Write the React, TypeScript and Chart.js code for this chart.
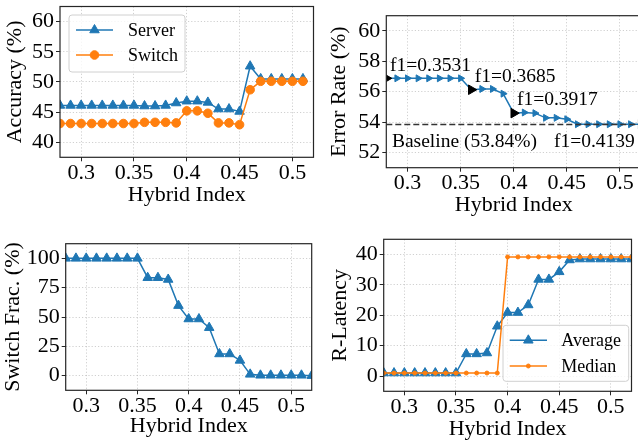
import React, { useEffect, useRef } from "react";
import { Chart, registerables } from "chart.js";

Chart.register(...registerables);

const FONT = "'Liberation Serif', 'Times New Roman', serif";
const BLUE = "#1f77b4";
const ORANGE = "#ff7f0e";

// ---------- data ----------
const hybridIndex = [0.28, 0.29, 0.3, 0.31, 0.32, 0.33, 0.34, 0.35, 0.36, 0.37, 0.38, 0.39, 0.4, 0.41, 0.42, 0.43, 0.44, 0.45, 0.46, 0.47, 0.48, 0.49, 0.5, 0.51, 0.52];
const accIndex = [0.28, 0.29, 0.3, 0.31, 0.32, 0.33, 0.34, 0.35, 0.36, 0.37, 0.38, 0.39, 0.4, 0.41, 0.42, 0.43, 0.44, 0.45, 0.46, 0.47, 0.48, 0.49, 0.5, 0.51];

const serverAcc = [46.1, 46.1, 46.1, 46.1, 46.1, 46.1, 46.1, 46.1, 46.0, 46.0, 46.1, 46.5, 46.8, 46.8, 46.6, 45.5, 45.5, 45.1, 52.6, 50.5, 50.5, 50.5, 50.5, 50.5];
const switchAcc = [43.1, 43.1, 43.1, 43.1, 43.1, 43.1, 43.1, 43.1, 43.3, 43.3, 43.3, 43.2, 45.2, 45.2, 44.8, 43.2, 43.2, 42.9, 48.7, 50.1, 50.1, 50.1, 50.1, 50.1];

const errorRate = [56.88, 56.88, 56.88, 56.88, 56.88, 56.88, 56.88, 56.88, 56.13, 56.18, 56.18, 55.87, 54.59, 54.63, 54.59, 54.28, 54.28, 54.19, 53.86, 53.86, 53.86, 53.86, 53.86, 53.86, 53.86];
const baselineError = 53.84;
const highlightIdx = [0, 8, 12, 24];
const f1Labels = ["f1=0.3531", "f1=0.3685", "f1=0.3917", "f1=0.4139"];
const f1LabelX = [0.2835, 0.3632, 0.403, 0.4378];
const f1LabelY = [57.35, 56.66, 55.15, 52.37];
const baselineLabel = "Baseline (53.84%)";
const baselineLabelX = 0.2853;
const baselineLabelY = 52.37;

const switchFrac = [100, 100, 100, 100, 100, 100, 100, 100, 83.5, 83.5, 82.0, 59.7, 48.3, 48.3, 40.9, 18.5, 18.5, 13.0, 1.1, 0.3, 0.3, 0.3, 0.3, 0.3, 0.0];

const avgLatency = [1.0, 1.0, 1.0, 1.0, 1.0, 1.0, 1.0, 1.0, 7.3, 7.3, 7.6, 16.4, 20.9, 20.9, 23.4, 31.8, 31.8, 34.3, 38.2, 38.5, 38.5, 38.5, 38.5, 38.5, 38.5];
const medLatency = [1.0, 1.0, 1.0, 1.0, 1.0, 1.0, 1.0, 1.0, 1.0, 1.0, 1.0, 1.0, 39.2, 39.2, 39.2, 39.2, 39.2, 39.2, 39.2, 39.2, 39.2, 39.2, 39.2, 39.2, 39.2];

const xTickValues = [0.3, 0.35, 0.4, 0.45, 0.5];
const xTickLabels = ["0.3", "0.35", "0.4", "0.45", "0.5"];
const accTicks = [40, 45, 50, 55, 60];
const errTicks = [52, 54, 56, 58, 60];
const fracTicks = [0, 25, 50, 75, 100];
const latTicks = [0, 10, 20, 30, 40];

const pts = (xs: number[], ys: number[]) => xs.map((x, i) => ({ x, y: ys[i] }));

// ---------- drawing helpers ----------
function drawMarker(ctx: CanvasRenderingContext2D, style: string, x: number, y: number, r: number, color: string, rotation = 0) {
  ctx.save();
  ctx.fillStyle = color;
  ctx.strokeStyle = color;
  ctx.lineWidth = 1;
  ctx.beginPath();
  if (style === "triangle") {
    let rad = (rotation * Math.PI) / 180;
    ctx.moveTo(x + Math.sin(rad) * r, y - Math.cos(rad) * r);
    rad += (2 * Math.PI) / 3;
    ctx.lineTo(x + Math.sin(rad) * r, y - Math.cos(rad) * r);
    rad += (2 * Math.PI) / 3;
    ctx.lineTo(x + Math.sin(rad) * r, y - Math.cos(rad) * r);
    ctx.closePath();
  } else {
    ctx.arc(x, y, r, 0, Math.PI * 2);
  }
  ctx.fill();
  ctx.stroke();
  ctx.restore();
}

const framePlugin = {
  id: "frame",
  afterDraw(chart: any, _args: any, opts: any) {
    const ctx: CanvasRenderingContext2D = chart.ctx;
    const { left, top, right, bottom } = chart.chartArea;

    // annotations (data coordinates)
    if (opts.texts) {
      const xs = chart.scales.x;
      const ys = chart.scales.y;
      ctx.save();
      ctx.fillStyle = "#000";
      ctx.font = `${opts.textSize}px ${FONT}`;
      ctx.textAlign = "left";
      ctx.textBaseline = "alphabetic";
      opts.texts.forEach((t: any) => {
        ctx.fillText(t.text, xs.getPixelForValue(t.x), ys.getPixelForValue(t.y));
      });
      ctx.restore();
    }

    // legend
    if (opts.legend) {
      const L = opts.legend;
      ctx.save();
      ctx.beginPath();
      const r = 3;
      const { x, y, w, h } = L.box;
      ctx.moveTo(x + r, y);
      ctx.arcTo(x + w, y, x + w, y + h, r);
      ctx.arcTo(x + w, y + h, x, y + h, r);
      ctx.arcTo(x, y + h, x, y, r);
      ctx.arcTo(x, y, x + w, y, r);
      ctx.closePath();
      ctx.fillStyle = "rgba(255,255,255,0.8)";
      ctx.fill();
      ctx.strokeStyle = "#d0d0d0";
      ctx.lineWidth = 1;
      ctx.stroke();
      const sets = chart.data.datasets.filter((d: any) => d.inLegend);
      sets.forEach((d: any, i: number) => {
        const yy = L.rows[i];
        ctx.beginPath();
        ctx.strokeStyle = d.borderColor;
        ctx.lineWidth = d.borderWidth;
        ctx.moveTo(L.x1, yy);
        ctx.lineTo(L.x2, yy);
        ctx.stroke();
        drawMarker(ctx, d.pointStyle, (L.x1 + L.x2) / 2, yy, d.pointRadius, d.borderColor);
        ctx.fillStyle = "#000";
        ctx.font = `${L.size}px ${FONT}`;
        ctx.textAlign = "left";
        ctx.textBaseline = "middle";
        ctx.fillText(d.label, L.tx, yy + 1);
      });
      ctx.restore();
    }

    // spines
    ctx.save();
    ctx.strokeStyle = "#262626";
    ctx.lineWidth = 1.2;
    ctx.strokeRect(left, top, right - left, bottom - top);
    ctx.restore();
  },
};

type PanelCfg = {
  canvasW: number;
  canvasH: number;
  padTop: number;
  padRight: number;
  yW: number;
  xH: number;
  yTitle: string;
  yTitlePad: number;
  xTitlePad: number;
  yMin: number;
  yMax: number;
  yTicks: number[];
  datasets: any[];
  frame: any;
};

function makeConfig(p: PanelCfg): any {
  const grid = {
    color: "rgba(176,176,176,0.75)",
    lineWidth: 0.8,
    tickLength: 4,
    tickColor: "#262626",
    tickWidth: 1,
  };
  const border = { display: false, dash: [1.2, 2] };
  return {
    type: "line",
    data: { datasets: p.datasets },
    options: {
      animation: false,
      responsive: false,
      devicePixelRatio: 1,
      layout: { padding: { left: 0, top: p.padTop, right: p.padRight, bottom: 0 } },
      plugins: { legend: { display: false }, tooltip: { enabled: false }, frame: p.frame },
      elements: { line: { tension: 0 } },
      scales: {
        x: {
          type: "linear",
          min: 0.28,
          max: 0.52,
          afterBuildTicks: (s: any) => {
            s.ticks = xTickValues.map((v) => ({ value: v }));
          },
          afterFit: (s: any) => {
            s.height = p.xH;
            s.paddingLeft = 0;
            s.paddingRight = 0;
            s.paddingTop = 0;
            s.paddingBottom = 0;
          },
          ticks: {
            callback: (_v: any, i: number) => xTickLabels[i],
            font: { size: 22, family: FONT, lineHeight: 1 },
            color: "#000",
            padding: 1,
            maxRotation: 0,
            autoSkip: false,
          },
          grid,
          border,
          title: {
            display: true,
            text: "Hybrid Index",
            color: "#000",
            font: { size: 22, family: FONT, lineHeight: 1 },
            padding: { top: 0, bottom: p.xTitlePad },
          },
        },
        y: {
          type: "linear",
          min: p.yMin,
          max: p.yMax,
          afterBuildTicks: (s: any) => {
            s.ticks = p.yTicks.map((v) => ({ value: v }));
          },
          afterFit: (s: any) => {
            s.width = p.yW;
            s.paddingLeft = 0;
            s.paddingRight = 0;
            s.paddingTop = 0;
            s.paddingBottom = 0;
          },
          ticks: {
            callback: (v: any) => String(v),
            font: { size: 22, family: FONT, lineHeight: 1 },
            color: "#000",
            padding: 2,
            autoSkip: false,
          },
          grid,
          border,
          title: {
            display: true,
            text: p.yTitle,
            color: "#000",
            font: { size: 22, family: FONT, lineHeight: 1 },
            padding: { top: p.yTitlePad, bottom: 0 },
          },
        },
      },
    },
    plugins: [framePlugin],
  };
}

const lineDs = (label: string, xs: number[], ys: number[], color: string, style: string, radius: number, order: number) => ({
  label,
  data: pts(xs, ys),
  borderColor: color,
  backgroundColor: color,
  borderWidth: 1.5,
  pointStyle: style,
  pointRadius: radius,
  pointBackgroundColor: color,
  pointBorderColor: color,
  pointBorderWidth: 1,
  order,
  inLegend: true,
});

function buildPanels(): { left: number; top: number; cfg: PanelCfg }[] {
  const errColors = errorRate.map((_, i) => (highlightIdx.includes(i) ? "#000" : BLUE));
  const errRadius = errorRate.map((_, i) => (highlightIdx.includes(i) ? 5.5 : 4));
  return [
    {
      left: 0,
      top: 0,
      cfg: {
        canvasW: 320,
        canvasH: 222,
        padTop: 5,
        padRight: 5,
        yW: 60,
        xH: 64.7,
        yTitle: "Accuracy (%)",
        yTitlePad: 4,
        xTitlePad: 16,
        yMin: 37.5,
        yMax: 62.5,
        yTicks: accTicks,
        datasets: [
          lineDs("Server", accIndex, serverAcc, BLUE, "triangle", 5.5, 1),
          lineDs("Switch", accIndex, switchAcc, ORANGE, "circle", 4.3, 0),
        ],
        frame: {
          legend: { box: { x: 69, y: 15, w: 116, h: 57 }, rows: [30, 55], x1: 76, x2: 113, tx: 128, size: 18 },
        },
      },
    },
    {
      left: 318,
      top: 0,
      cfg: {
        canvasW: 330,
        canvasH: 222,
        padTop: 15.7,
        padRight: 6.8,
        yW: 68.3,
        xH: 54.3,
        yTitle: "Error Rate (%)",
        yTitlePad: 10.6,
        xTitlePad: 5.4,
        yMin: 51,
        yMax: 61,
        yTicks: errTicks,
        datasets: [
          {
            label: "Baseline",
            data: [
              { x: 0.28, y: baselineError },
              { x: 0.52, y: baselineError },
            ],
            borderColor: "#333333",
            borderWidth: 1.5,
            borderDash: [6, 3],
            pointRadius: 0,
            order: 0,
          },
          {
            label: "Error",
            data: pts(hybridIndex, errorRate),
            borderColor: BLUE,
            borderWidth: 1.5,
            pointStyle: "triangle",
            pointRotation: 90,
            pointRadius: errRadius,
            pointBackgroundColor: errColors,
            pointBorderColor: errColors,
            pointBorderWidth: 1,
            order: 1,
          },
        ],
        frame: {
          textSize: 19.5,
          texts: [
            ...f1Labels.map((t, i) => ({ text: t, x: f1LabelX[i], y: f1LabelY[i] })),
            { text: baselineLabel, x: baselineLabelX, y: baselineLabelY },
          ],
        },
      },
    },
    {
      left: 0,
      top: 222,
      cfg: {
        canvasW: 320,
        canvasH: 222,
        padTop: 21.7,
        padRight: 8.3,
        yW: 65.7,
        xH: 53.7,
        yTitle: "Switch Frac. (%)",
        yTitlePad: 2.3,
        xTitlePad: 7,
        yMin: -12.5,
        yMax: 112.5,
        yTicks: fracTicks,
        datasets: [{ ...lineDs("Switch Frac.", hybridIndex, switchFrac, BLUE, "triangle", 5.5, 0), inLegend: false }],
        frame: {},
      },
    },
    {
      left: 318,
      top: 222,
      cfg: {
        canvasW: 320,
        canvasH: 222,
        padTop: 17.3,
        padRight: 0.5,
        yW: 65.7,
        xH: 52.7,
        yTitle: "R-Latency",
        yTitlePad: 11,
        xTitlePad: 3.4,
        yMin: -5,
        yMax: 45,
        yTicks: latTicks,
        datasets: [
          lineDs("Average", hybridIndex, avgLatency, BLUE, "triangle", 5.5, 1),
          lineDs("Median", hybridIndex, medLatency, ORANGE, "circle", 2, 0),
        ],
        frame: {
          legend: { box: { x: 185, y: 103.3, w: 125.7, h: 56 }, rows: [118.3, 144], x1: 191.7, x2: 229, tx: 243.3, size: 18 },
        },
      },
    },
  ];
}

function Panel({ left, top, cfg }: { left: number; top: number; cfg: PanelCfg }) {
  const ref = useRef<HTMLCanvasElement | null>(null);
  useEffect(() => {
    if (!ref.current) return;
    const chart = new Chart(ref.current, makeConfig(cfg));
    return () => chart.destroy();
  }, []);
  return (
    <canvas
      ref={ref}
      width={cfg.canvasW}
      height={cfg.canvasH}
      style={{ position: "absolute", left, top, width: cfg.canvasW, height: cfg.canvasH }}
    />
  );
}

export default function App() {
  const panels = buildPanels();
  return (
    <div
      style={{
        position: "fixed",
        left: 0,
        top: 0,
        width: 638,
        height: 444,
        overflow: "hidden",
        background: "#fff",
      }}
    >
      {panels.map((p, i) => (
        <Panel key={i} left={p.left} top={p.top} cfg={p.cfg} />
      ))}
    </div>
  );
}
